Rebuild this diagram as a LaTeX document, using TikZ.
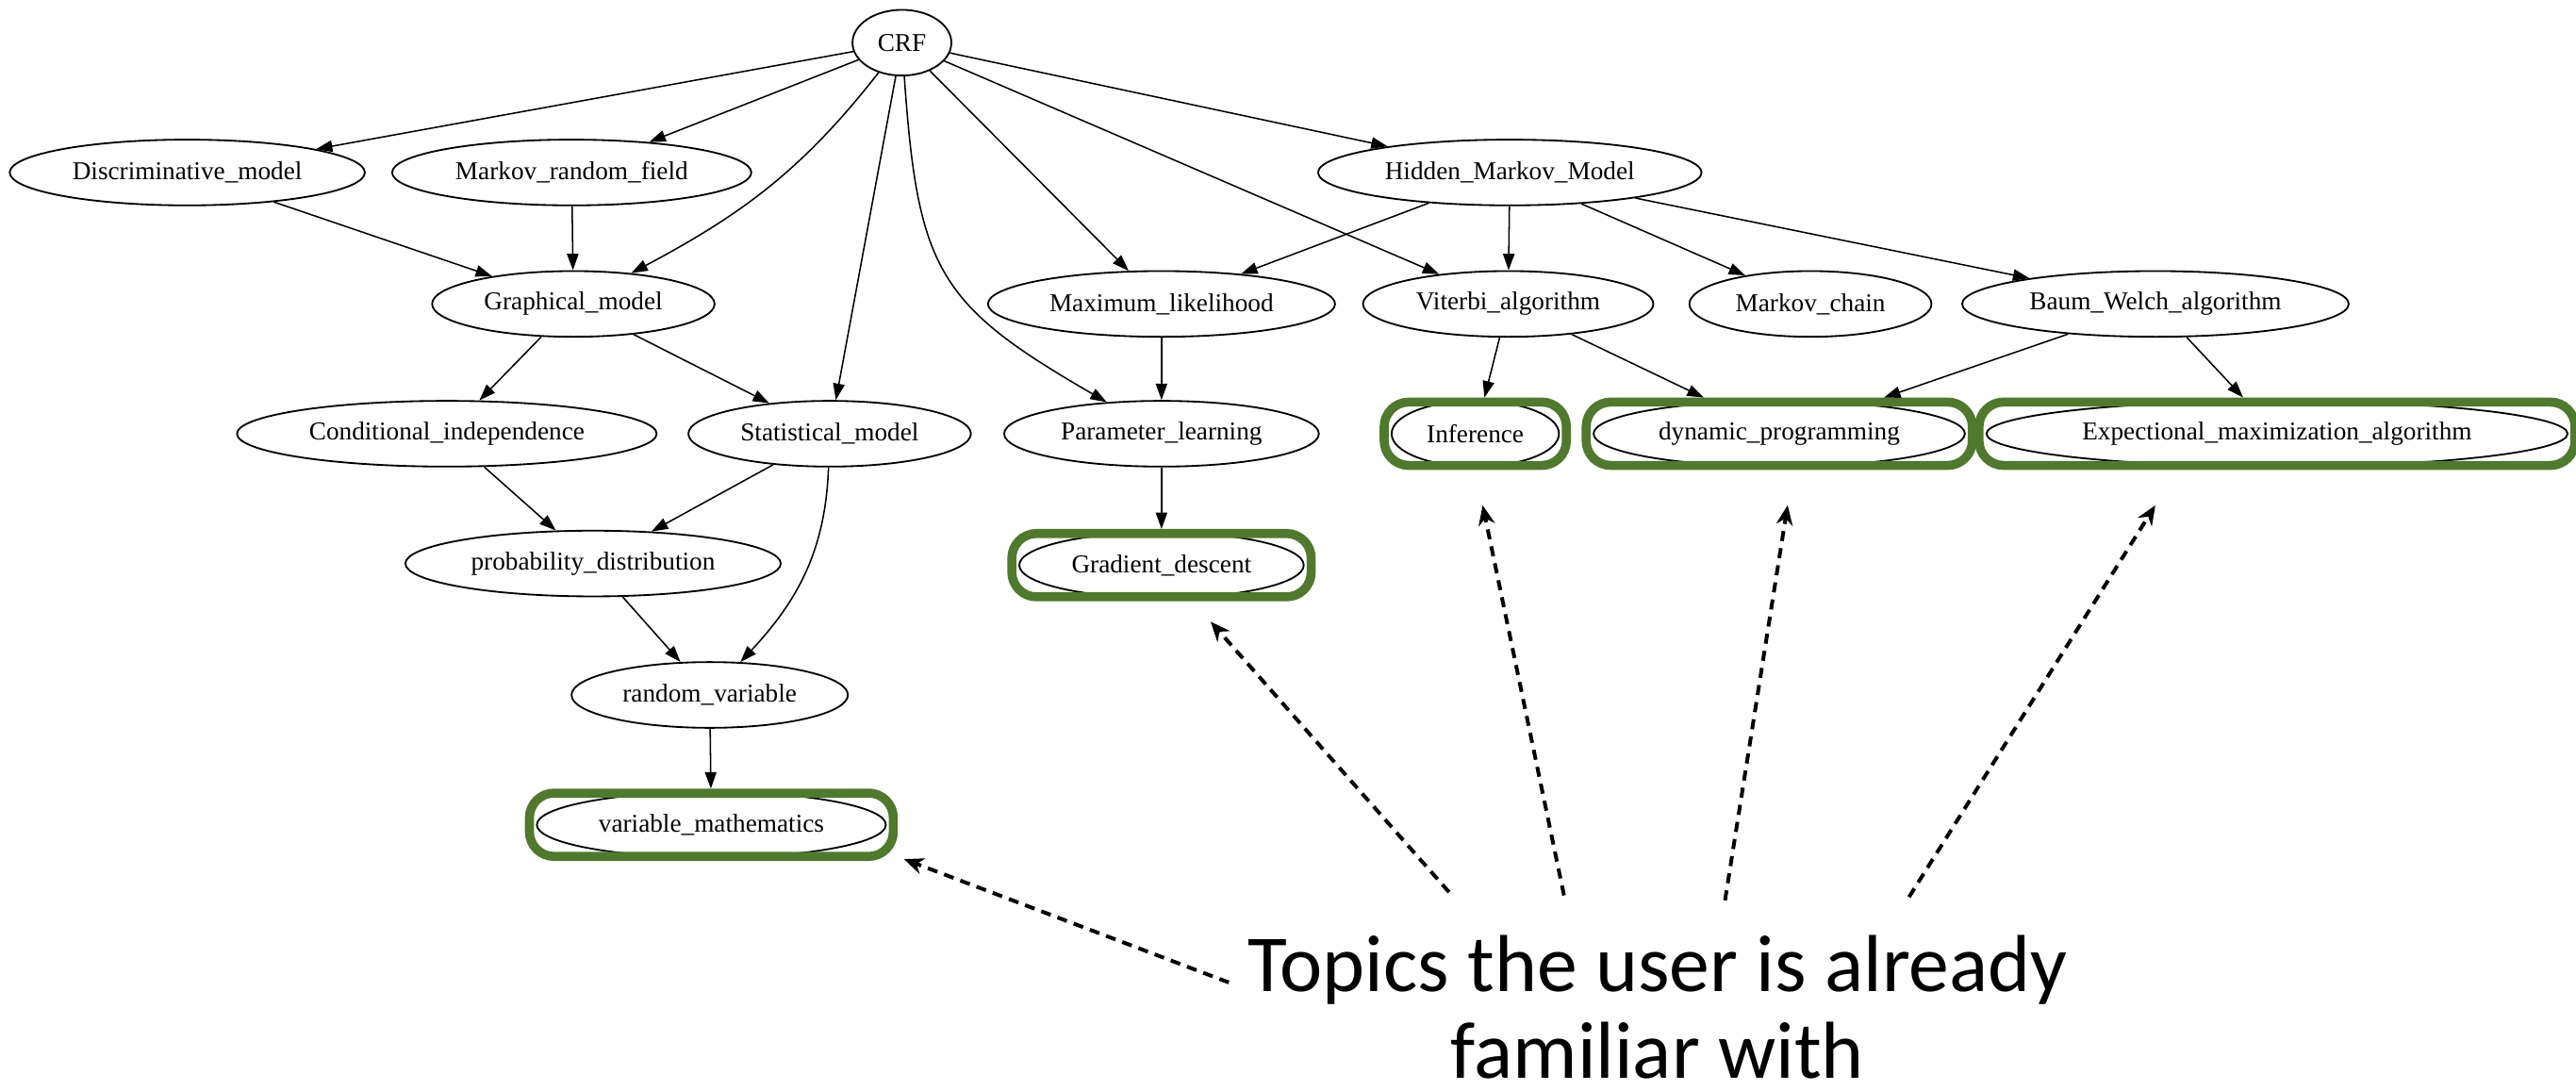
\documentclass[tikz,border=0pt]{standalone}
\usepackage{fontspec}
\newfontfamily\gvfont{Liberation Serif}
\newfontfamily\slidefont{Carlito}
\usetikzlibrary{arrows.meta,fit,shapes.geometric}
\definecolor{knowngreen}{RGB}{79,121,44}
\tikzset{
  topic/.style={ellipse, draw, line width=0.6pt, minimum height=8mm, inner xsep=1.3mm, inner ysep=0.5mm,
    font=\gvfont\fontsize{8.9}{10}\selectfont},
  known/.style={rectangle, draw=knowngreen, line width=1.1mm, rounded corners=3mm, inner xsep=0.8mm, inner ysep=-0.25mm},
  link/.style={-{Triangle[length=2mm,width=1.4mm]}, line width=0.5pt},
  pointer/.style={-{Stealth[length=2.4mm,width=2mm]}, line width=1.3pt, dash pattern=on 3.5pt off 2.5pt},
}
\begin{document}
\begin{tikzpicture}[x=0.2mm,y=-0.2mm]
    \useasboundingbox (0,0) rectangle (1568,664);
    \node[topic] (crf) at (549,26) {CRF};
    \node[topic] (disc) at (114,105) {Discriminative\_model};
    \node[topic] (mrf) at (348,105) {Markov\_random\_field};
    \node[topic] (hmm) at (919,105) {Hidden\_Markov\_Model};
    \node[topic] (gm) at (349,185) {Graphical\_model};
    \node[topic] (ml) at (707,185) {Maximum\_likelihood};
    \node[topic] (vit) at (918,185) {Viterbi\_algorithm};
    \node[topic] (mc) at (1102,185) {Markov\_chain};
    \node[topic] (bw) at (1312,185) {Baum\_Welch\_algorithm};
    \node[topic] (ci) at (272,264) {Conditional\_independence};
    \node[topic] (sm) at (505,264) {Statistical\_model};
    \node[topic] (pl) at (707,264) {Parameter\_learning};
    \node[topic] (inf) at (898,264) {Inference};
    \node[topic] (dp) at (1083,264) {dynamic\_programming};
    \node[topic] (em) at (1386,264) {Expectional\_maximization\_algorithm};
    \node[topic] (pd) at (361,343) {probability\_distribution};
    \node[topic] (gd) at (707,344) {Gradient\_descent};
    \node[topic] (rv) at (432,423) {random\_variable};
    \node[topic] (vm) at (433,502) {variable\_mathematics};

    % topics already known
    \node[known, fit=(inf)] (infk) {};
    \node[known, fit=(dp)] (dpk) {};
    \node[known, fit=(em)] (emk) {};
    \node[known, fit=(gd)] (gdk) {};
    \node[known, fit=(vm)] (vmk) {};

    \draw[link] (crf) -- (disc);
    \draw[link] (crf) -- (mrf);
    \draw[link] (crf) to[out=-128,in=28] (gm);
    \draw[link] (crf) -- (sm);
    \draw[link] (crf) to[out=-86,in=150,looseness=1.3] (pl);
    \draw[link] (crf) -- (ml);
    \draw[link] (crf) -- (vit);
    \draw[link] (crf) -- (hmm);
    \draw[link] (disc) -- (gm);
    \draw[link] (mrf) -- (gm);
    \draw[link] (gm) -- (ci);
    \draw[link] (gm) -- (sm);
    \draw[link] (ci) -- (pd);
    \draw[link] (sm) -- (pd);
    \draw[link] (sm) to[out=-92,in=47] (rv);
    \draw[link] (pd) -- (rv);
    \draw[link] (rv) -- (vmk);
    \draw[link] (hmm) -- (ml);
    \draw[link] (hmm) -- (vit);
    \draw[link] (hmm) -- (mc);
    \draw[link] (hmm) -- (bw);
    \draw[link] (ml) -- (pl);
    \draw[link] (pl) -- (gdk);
    \draw[link] (vit) -- (infk);
    \draw[link] (vit) -- (dpk);
    \draw[link] (bw) -- (dpk);
    \draw[link] (bw) -- (emk);

    \node[font=\slidefont\fontsize{28}{30}\selectfont, align=center, anchor=north, inner sep=0pt] (note) at (1009,569)
      {Topics the user is already\\familiar with};
    \coordinate (s1) at (748,598);
    \coordinate (s2) at (882,543);
    \coordinate (s3) at (952,545);
    \coordinate (s4) at (1050,548);
    \coordinate (s5) at (1162,546);
    \draw[pointer, shorten >=0.8mm] (s1) -- ([yshift=-3.9mm]vmk.east);
    \draw[pointer, shorten >=3.3mm] (s2) -- ([xshift=3.8mm]gdk.south);
    \draw[pointer, shorten >=4.4mm] (s3) -- (infk.south);
    \draw[pointer, shorten >=4.35mm] (s4) -- ([xshift=1.7mm]dpk.south);
    \draw[pointer, shorten >=5.1mm] (s5) -- ([xshift=-12.1mm]emk.south);
  \end{tikzpicture}
\end{document}
